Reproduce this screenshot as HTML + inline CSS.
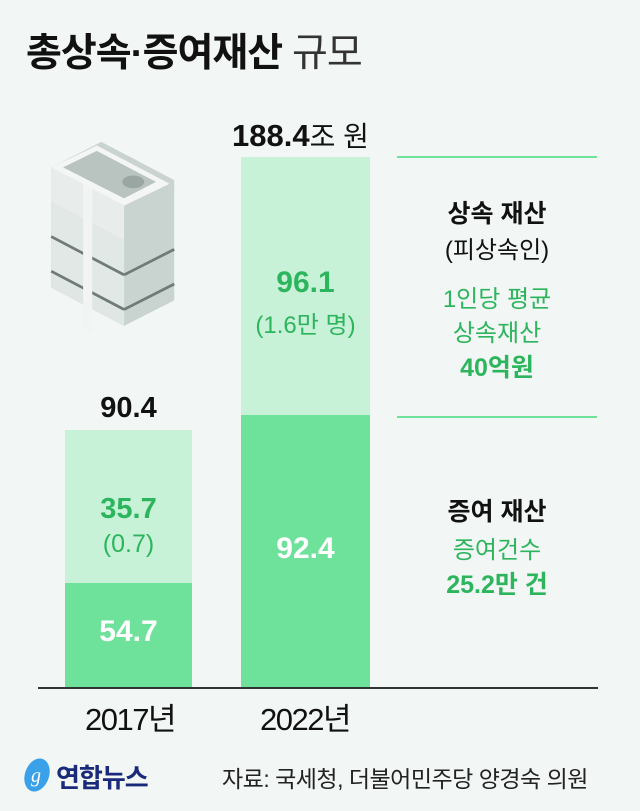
<!DOCTYPE html>
<html><head><meta charset="utf-8"><style>
body{margin:0;width:640px;height:811px;background:#f2f6f4;position:relative;overflow:hidden;font-family:"Liberation Sans","Noto Sans CJK KR",sans-serif;}
.a{position:absolute;white-space:nowrap;}
.c{text-align:center;}
</style></head><body>
<div class="a" style="left:26px;top:22px;font-size:39px;font-weight:bold;color:#111;letter-spacing:-1px">총상속·증여재산 <span style="font-weight:normal;color:#333">규모</span></div>

<!-- money stack -->
<svg class="a" style="left:40px;top:140px" width="150" height="195" viewBox="0 -26 150 214">
 <g>
  <polygon points="5,118 60,90 140,132 140,150 85,178 5,136" fill="#c9d3cf"/>
  <polygon points="5,118 85,160 85,178 5,136" fill="#dfe6e3"/>
  <polygon points="5,80 60,52 140,94 140,132 85,160 5,118" fill="#c9d3cf"/>
  <polygon points="5,80 85,122 85,160 5,118" fill="#e2e8e5"/>
  <polygon points="5,42 60,14 140,56 140,94 85,122 5,80" fill="#c9d3cf"/>
  <polygon points="5,42 85,84 85,122 5,80" fill="#e2e8e5"/>
  <polygon points="5,4 60,-24 140,18 140,56 85,84 5,42" fill="#c9d3cf"/>
  <polygon points="5,4 85,46 85,84 5,42" fill="#e8edeb"/>
  <polygon points="5,4 55,-20 135,22 85,46" fill="#f4f6f5"/>
  <polygon points="18,4 55,-14 120,20 85,38" fill="#b9c4c0"/>
  <line x1="5" y1="80" x2="85" y2="122" stroke="#6f7b77" stroke-width="3"/>
  <line x1="85" y1="122" x2="140" y2="94" stroke="#6f7b77" stroke-width="3"/>
  <line x1="5" y1="118" x2="85" y2="160" stroke="#6f7b77" stroke-width="3"/>
  <line x1="85" y1="160" x2="140" y2="132" stroke="#6f7b77" stroke-width="3"/>
  <polygon points="40,22 50,27 50,185 40,180" fill="#f2f4f3"/>
  <ellipse cx="95" cy="20" rx="12" ry="7" fill="#9aa6a2"/>
 </g>
</svg>

<div class="a" style="left:65px;top:430px;width:127px;height:153px;background:#c8f2d8"></div>
<div class="a" style="left:65px;top:583px;width:127px;height:105px;background:#6ee29a"></div>
<div class="a" style="left:241px;top:157px;width:129px;height:258px;background:#c8f2d8"></div>
<div class="a" style="left:241px;top:415px;width:129px;height:273px;background:#6ee29a"></div>
<div class="a" style="left:38px;top:687px;width:560px;height:1.5px;background:#333"></div>
<div class="a" style="left:397px;top:156px;width:200px;height:1.5px;background:#6ee29a"></div>
<div class="a" style="left:397px;top:416px;width:200px;height:1.5px;background:#6ee29a"></div>

<div class="a c" style="left:65px;width:127px;top:392px;font-size:29px;font-weight:bold;color:#111">90.4</div>
<div class="a" style="left:232px;top:115px;font-size:31px;font-weight:bold;color:#111">188.4<span style="font-weight:normal;font-size:28px">조 원</span></div>

<div class="a c" style="left:65px;width:127px;top:493px;font-size:29px;font-weight:bold;color:#2db55d">35.7</div>
<div class="a c" style="left:65px;width:127px;top:530px;font-size:25px;color:#2db55d">(0.7)</div>
<div class="a c" style="left:65px;width:127px;top:615px;font-size:30px;font-weight:bold;color:#fff">54.7</div>

<div class="a c" style="left:241px;width:129px;top:266px;font-size:30px;font-weight:bold;color:#2db55d">96.1</div>
<div class="a c" style="left:241px;width:129px;top:305px;font-size:24px;color:#2db55d">(1.6만 명)</div>
<div class="a c" style="left:241px;width:129px;top:532px;font-size:30px;font-weight:bold;color:#fff">92.4</div>

<div class="a c" style="left:397px;width:200px;top:194px;font-size:25px;font-weight:bold;color:#111">상속 재산</div>
<div class="a c" style="left:397px;width:200px;top:230px;font-size:24px;color:#111">(피상속인)</div>
<div class="a c" style="left:397px;width:200px;top:279px;font-size:24px;color:#2db55d">1인당 평균</div>
<div class="a c" style="left:397px;width:200px;top:313px;font-size:24px;color:#2db55d">상속재산</div>
<div class="a c" style="left:397px;width:200px;top:348px;font-size:25px;font-weight:bold;color:#2db55d">40억원</div>

<div class="a c" style="left:397px;width:200px;top:492px;font-size:25px;font-weight:bold;color:#111">증여 재산</div>
<div class="a c" style="left:397px;width:200px;top:530px;font-size:24px;color:#2db55d">증여건수</div>
<div class="a c" style="left:397px;width:200px;top:565px;font-size:25px;font-weight:bold;color:#2db55d">25.2만 건</div>

<div class="a c" style="left:55px;width:150px;top:694px;font-size:31px;color:#111;letter-spacing:-1.5px">2017년</div>
<div class="a c" style="left:230px;width:150px;top:694px;font-size:31px;color:#111;letter-spacing:-1.5px">2022년</div>

<svg class="a" style="left:22px;top:755px" width="30" height="40"><ellipse cx="15" cy="20" rx="12" ry="17" fill="#3aa0e8" transform="rotate(20 15 20)"/><text x="9" y="27" font-size="20" font-style="italic" fill="#fff" font-family="Liberation Serif">g</text></svg>
<div class="a" style="left:56px;top:758px;font-size:26px;font-weight:bold;color:#1a2a7a;letter-spacing:-1px">연합뉴스</div>
<div class="a" style="left:222px;top:760px;font-size:23px;color:#222;letter-spacing:-0.5px">자료: 국세청, 더불어민주당 양경숙 의원</div>
</body></html>
